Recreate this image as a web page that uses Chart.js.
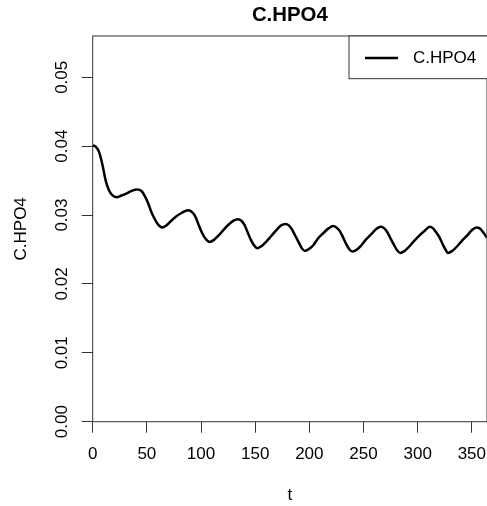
<!DOCTYPE html>
<html>
<head>
<meta charset="utf-8">
<script src="https://cdn.jsdelivr.net/npm/chart.js@4.4.0/dist/chart.umd.min.js"></script>
<style>
  html, body { margin: 0; padding: 0; background: #fff; }
</style>
</head>
<body>
<canvas id="myChart" width="487" height="506"></canvas>
<script>
"use strict";

const seriesName = "C.HPO4";
const tDays = [0, 3, 6, 9, 12, 15, 18, 22, 26, 31, 36, 41, 45, 48, 51, 54, 57, 60, 64, 68, 72, 77, 82, 88,
  92, 95, 98, 101, 104, 108, 112, 116, 121, 126, 130, 134, 137, 140, 143, 146, 149, 152, 156, 160, 165, 170,
  174, 178, 181, 184, 187, 190, 193, 196, 200, 204, 208, 213, 218, 222, 225, 228, 231, 234, 237, 240, 244,
  248, 252, 257, 262, 266, 269, 272, 275, 278, 281, 284, 288, 292, 297, 302, 307, 311, 314, 317, 320, 323,
  326, 328, 332, 336, 341, 346, 350, 354, 357, 360, 364];
const cHPO4 = [0.0401, 0.0399, 0.0391, 0.0373, 0.0350, 0.0336, 0.0329, 0.0326, 0.0328, 0.0331, 0.0335, 0.0337,
  0.0335, 0.0328, 0.0318, 0.0305, 0.0295, 0.0287, 0.0282, 0.0285, 0.0291, 0.0298, 0.0303, 0.0307,
  0.0304, 0.0297, 0.0285, 0.0274, 0.0266, 0.0261, 0.0264, 0.0270, 0.0279, 0.0287, 0.0292, 0.0294,
  0.0292, 0.0286, 0.0275, 0.0264, 0.0256, 0.0252, 0.0255, 0.0261, 0.0270, 0.0279, 0.0285, 0.0287,
  0.0285, 0.0279, 0.0270, 0.0261, 0.0252, 0.0248, 0.0251, 0.0257, 0.0266, 0.0274, 0.0281, 0.0284,
  0.0282, 0.0277, 0.0268, 0.0258, 0.0250, 0.0247, 0.0250, 0.0256, 0.0264, 0.0272, 0.0280, 0.0283,
  0.0281, 0.0275, 0.0266, 0.0257, 0.0249, 0.0245, 0.0248, 0.0254, 0.0263, 0.0271, 0.0278, 0.0283,
  0.0281, 0.0275, 0.0268, 0.0258, 0.0249, 0.0245, 0.0248, 0.0254, 0.0263, 0.0271, 0.0278, 0.0282,
  0.0281, 0.0276, 0.0267];
const xTicks = [0, 50, 100, 150, 200, 250, 300, 350];
const yTicks = [0, 0.01, 0.02, 0.03, 0.04, 0.05];

const axisColor = "#333";
Chart.defaults.font.family = "'Liberation Sans', Arial, sans-serif";
Chart.defaults.font.size = 17;
Chart.defaults.color = "#000";

// R-style box round the plot region
const boxPlugin = {
  id: "plotBox",
  afterDraw(chart) {
    const a = chart.chartArea;
    const ctx = chart.ctx;
    ctx.save();
    ctx.strokeStyle = axisColor;
    ctx.lineWidth = 1;
    ctx.strokeRect(a.left, a.top, a.right - a.left, a.bottom - a.top);
    ctx.restore();
  }
};

// legend in the top right corner, like legend("topright")
const legendPlugin = {
  id: "cornerLegend",
  afterDraw(chart) {
    const a = chart.chartArea;
    const ds = chart.data.datasets[0];
    const ctx = chart.ctx;
    const x0 = a.right - 138, y0 = a.top, h = 42.7;
    ctx.save();
    ctx.fillStyle = "#fff";
    ctx.fillRect(x0, y0, 140, h);
    ctx.strokeStyle = axisColor;
    ctx.lineWidth = 1;
    ctx.strokeRect(x0, y0, 140, h);
    ctx.strokeStyle = ds.borderColor;
    ctx.lineWidth = ds.borderWidth;
    ctx.beginPath();
    ctx.moveTo(x0 + 16, y0 + 22);
    ctx.lineTo(x0 + 49, y0 + 22);
    ctx.stroke();
    ctx.fillStyle = "#000";
    ctx.font = "17px 'Liberation Sans', Arial, sans-serif";
    ctx.textBaseline = "middle";
    ctx.fillText(ds.label, x0 + 64, y0 + 22);
    ctx.restore();
  }
};

const ctx = document.getElementById("myChart").getContext("2d");
const myChart = new Chart(ctx, {
  type: "line",
  data: {
    datasets: [
      {
        label: seriesName,
        data: tDays.map((t, i) => ({ x: t, y: cHPO4[i] })),
        borderColor: "#000",
        borderWidth: 2.5,
        pointRadius: 0,
        fill: false,
        cubicInterpolationMode: "monotone",
      },
    ],
  },
  options: {
    responsive: false,
    animation: false,
    layout: { autoPadding: false, padding: 0 },
    plugins: {
      legend: { display: false },
      tooltip: { enabled: false },
      title: {
        display: true,
        text: seriesName,
        fullSize: false,
        color: "#000",
        font: { size: 20.4, weight: "bold" },
        padding: { top: 3.3, bottom: 8.2 },
      },
    },
    scales: {
      x: {
        type: "linear",
        min: 0,
        max: 364,
        afterBuildTicks: (scale) => { scale.ticks = xTicks.map((v) => ({ value: v })); },
        afterFit: (scale) => {
          scale.height = 84.3;
          scale.paddingLeft = 0;
          scale.paddingRight = 0;
        },
        grid: { drawOnChartArea: false, tickLength: 11, color: axisColor },
        border: { display: false },
        ticks: { padding: 11, maxRotation: 0, autoSkip: false, color: "#000" },
        title: { display: true, text: "t", color: "#000", padding: { top: 0, bottom: 0 } },
      },
      y: {
        min: 0,
        max: 0.056,
        afterBuildTicks: (scale) => { scale.ticks = yTicks.map((v) => ({ value: v })); },
        afterFit: (scale) => {
          scale.width = 92.7;
          scale.paddingTop = 0;
          scale.paddingBottom = 0;
        },
        grid: { drawOnChartArea: false, tickLength: 11, color: axisColor },
        border: { display: false },
        ticks: {
          padding: 3,
          minRotation: 90,
          maxRotation: 90,
          crossAlign: "center",
          autoSkip: false,
          color: "#000",
          callback: (v) => v.toFixed(2),
        },
        title: { display: true, text: seriesName, color: "#000", padding: { top: 11, bottom: 0 } },
      },
    },
  },
  plugins: [boxPlugin, legendPlugin],
});
</script>
</body>
</html>
